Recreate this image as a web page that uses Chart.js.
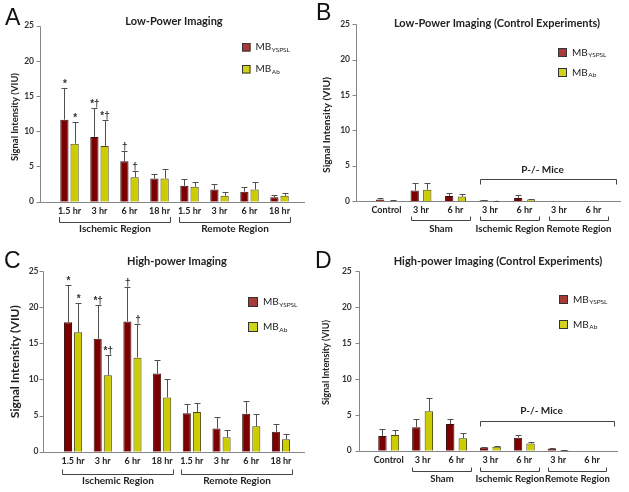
<!DOCTYPE html>
<html>
<head>
<meta charset="utf-8">
<script src="https://cdn.jsdelivr.net/npm/chart.js@4.4.1/dist/chart.umd.min.js"></script>
<style>
  body { margin: 0; background: #fff; }
  canvas { position: absolute; }
</style>
</head>
<body>
<canvas id="chartA" width="314" height="246" style="left:0;top:0"></canvas>
<canvas id="chartB" width="315" height="246" style="left:314px;top:0"></canvas>
<canvas id="chartC" width="314" height="246" style="left:0;top:246px"></canvas>
<canvas id="chartD" width="315" height="246" style="left:314px;top:246px"></canvas>
<script>
const FONT = 'Lato, "Open Sans", sans-serif';
const MARK_FONT = '"Liberation Sans", Arial, sans-serif';

// categories and ticks
const timeLabels = ['1.5 hr', '3 hr', '6 hr', '18 hr', '1.5 hr', '3 hr', '6 hr', '18 hr'];
const controlLabels = ['Control', '3 hr', '6 hr', '3 hr', '6 hr', '3 hr', '6 hr'];
const yTicks = [0, 5, 10, 15, 20, 25];

const seriesNames = ['MB', 'MB'];
const seriesSubs = ['YSPSL', 'Ab'];

// A - low power
const lowYspsl = [11.65, 9.2, 5.73, 3.3, 2.26, 1.73, 1.42, 0.62];
const lowYspslSD = [4.45, 4.05, 1.52, 0.57, 0.94, 0.77, 0.62, 0.28];
const lowAb = [8.23, 7.9, 3.47, 3.3, 2.13, 0.84, 1.73, 0.84];
const lowAbSD = [3.07, 3.75, 0.89, 1.4, 0.67, 0.56, 1.07, 0.4];

// B - low power controls
const lowCtrlYspsl = [0.22, 1.47, 0.71, 0.1, 0.44, 0, 0];
const lowCtrlYspslSD = [0.18, 1.1, 0.44, 0.05, 0.45, 0, 0];
const lowCtrlAb = [0.05, 1.6, 0.62, 0.05, 0.22, 0, 0];
const lowCtrlAbSD = [0.03, 0.98, 0.4, 0.02, 0.13, 0, 0];

// C - high power
const highYspsl = [17.9, 15.6, 18.0, 10.8, 5.3, 3.2, 5.26, 2.74];
const highYspslSD = [5.07, 4.7, 4.7, 1.9, 1.3, 1.6, 1.74, 1.1];
const highAb = [16.5, 10.55, 13.0, 7.5, 5.5, 2.0, 3.5, 1.72];
const highAbSD = [4.1, 2.75, 4.6, 2.57, 1.2, 0.97, 1.7, 0.71];

// D - high power controls
const highCtrlYspsl = [2.05, 3.27, 3.7, 0.46, 1.82, 0.27, 0];
const highCtrlYspslSD = [0.95, 1.1, 0.76, 0.09, 0.32, 0.06, 0];
const highCtrlAb = [2.2, 5.5, 1.73, 0.55, 1.0, 0.1, 0];
const highCtrlAbSD = [0.7, 1.8, 0.77, 0.17, 0.28, 0.05, 0];

// significance marks
const timeMarksYspsl = ['*', '*†', '†', '', '', '', '', ''];
const timeMarksAb = ['*', '*†', '†', '', '', '', '', ''];

// groupings under the x axis
const timeGroupNames = ['Ischemic Region', 'Remote Region'];
const timeGroupFirst = [0, 4];
const timeGroupLast = [3, 7];
const ctrlGroupNames = ['Sham', 'Ischemic Region', 'Remote Region'];
const ctrlGroupFirst = [1, 3, 5];
const ctrlGroupLast = [2, 4, 6];
const miceLabel = 'P-/- Mice';
const miceFirst = 3;
const miceLast = 6;

const barColors = ['#7d0000', '#cccc00'];
const legendColors = ['#a83a3a', '#d2d21e'];

const decor = {
  id: 'decor',
  beforeDatasetsDraw(chart, args, o) {
    const ctx = chart.ctx, y = chart.scales.y;
    const y0 = Math.round(y.getPixelForValue(0)) + 0.5;
    const yTop = Math.round(y.getPixelForValue(25)) + 0.5;
    const ax = Math.round(o.axisX) + 0.5;
    ctx.save();
    ctx.strokeStyle = '#858585';
    ctx.lineWidth = 1;
    ctx.beginPath();
    ctx.moveTo(ax, yTop);
    ctx.lineTo(ax, y0);
    ctx.lineTo(o.axisRight, y0);
    yTicks.forEach(v => {
      const py = Math.round(y.getPixelForValue(v)) + 0.5;
      ctx.moveTo(ax - 4, py);
      ctx.lineTo(ax, py);
    });
    ctx.stroke();
    ctx.restore();
  },
  afterDatasetsDraw(chart, args, o) {
    const ctx = chart.ctx, x = chart.scales.x, y = chart.scales.y;
    ctx.save();

    // error bars + marks
    ctx.strokeStyle = '#505050';
    ctx.lineWidth = 1;
    ctx.fillStyle = '#333';
    ctx.font = `bold 10px ${MARK_FONT}`;
    ctx.textAlign = 'center';
    ctx.textBaseline = 'alphabetic';
    chart.data.datasets.forEach((ds, i) => {
      const meta = chart.getDatasetMeta(i);
      meta.data.forEach((bar, j) => {
        const sd = ds.sd[j];
        if (!sd) return;
        const yt = Math.round(y.getPixelForValue(ds.data[j] + sd)) + 0.5;
        const bx = Math.round(bar.x) + 0.5;
        ctx.beginPath();
        ctx.moveTo(bx, bar.y);
        ctx.lineTo(bx, yt);
        ctx.moveTo(bx - 3, yt);
        ctx.lineTo(bx + 3, yt);
        ctx.stroke();
        const m = ds.marks && ds.marks[j];
        if (m) ctx.fillText(m, bar.x + 0.5, yt - 2);
      });
    });

    // title
    ctx.fillStyle = '#222';
    ctx.font = `bold 11px ${FONT}`;
    ctx.textBaseline = 'middle';
    ctx.fillText(o.title, o.titleX, o.titleY);

    // panel letter
    ctx.textAlign = 'left';
    ctx.textBaseline = 'alphabetic';
    ctx.font = `23px "Liberation Sans", Arial, sans-serif`;
    ctx.fillStyle = '#111';
    ctx.fillText(o.letter, o.letterX, o.letterY);

    // y title, fitted to its length in the picture
    ctx.save();
    ctx.translate(o.yTitleX, o.yTitleY);
    ctx.rotate(-Math.PI / 2);
    ctx.font = `bold 10px ${FONT}`;
    const fs = 10 * o.yTitleLen / ctx.measureText('Signal Intensity (VIU)').width;
    ctx.font = `bold ${fs.toFixed(2)}px ${FONT}`;
    ctx.textAlign = 'center';
    ctx.textBaseline = 'middle';
    ctx.fillStyle = '#222';
    ctx.fillText('Signal Intensity (VIU)', 0, 0);
    ctx.restore();

    // legend
    chart.data.datasets.forEach((ds, i) => {
      const sy = o.legendY[i], s = o.legendSize;
      ctx.fillStyle = legendColors[i];
      ctx.fillRect(o.legendX, sy, s, s);
      ctx.strokeStyle = '#333';
      ctx.strokeRect(o.legendX + 0.5, sy + 0.5, s - 1, s - 1);
      ctx.fillStyle = '#222';
      ctx.textAlign = 'left';
      ctx.textBaseline = 'middle';
      ctx.font = `10px ${FONT}`;
      ctx.fillText(ds.name, o.legendX + s + 5, sy + s / 2);
      const w = ctx.measureText(ds.name).width;
      ctx.font = `6.5px ${FONT}`;
      ctx.fillText(ds.sub, o.legendX + s + 5 + w + 0.5, sy + s / 2 + 2.5);
    });

    // brackets under the axis
    ctx.strokeStyle = '#444';
    ctx.fillStyle = '#222';
    ctx.font = `bold ${o.groupFont}px ${FONT}`;
    ctx.textAlign = 'center';
    ctx.textBaseline = 'middle';
    o.groupNames.forEach((name, k) => {
      const xs = Math.round(x.getPixelForValue(o.groupFirst[k] - 0.5 + o.inset[0])) + 0.5;
      const xe = Math.round(x.getPixelForValue(o.groupLast[k] + 0.5 - o.inset[1])) + 0.5;
      ctx.beginPath();
      ctx.moveTo(xs, o.brTop);
      ctx.lineTo(xs, o.brY);
      ctx.lineTo(xe, o.brY);
      ctx.lineTo(xe, o.brTop);
      ctx.stroke();
      ctx.fillText(name, (xs + xe) / 2, o.groupLabelY);
    });

    // P-/- mice bracket
    if (o.mice) {
      const xs = Math.round(x.getPixelForValue(miceFirst - 0.3)) + 0.5;
      const xe = Math.round(x.getPixelForValue(miceLast + 0.65)) + 0.5;
      ctx.beginPath();
      ctx.moveTo(xs, o.mice.y + 5);
      ctx.lineTo(xs, o.mice.y);
      ctx.lineTo(xe, o.mice.y);
      ctx.lineTo(xe, o.mice.y + 5);
      ctx.stroke();
      ctx.font = `bold 10px ${FONT}`;
      ctx.fillText(miceLabel, (xs + xe) / 2 - 6, o.mice.labelY);
    }
    ctx.restore();
  }
};

function makePanel(id, labels, yspsl, yspslSD, ab, abSD, marksY, marksA, lay) {
  const datasets = [
    { data: yspsl, sd: yspslSD, marks: marksY, name: seriesNames[0], sub: seriesSubs[0],
      backgroundColor: barColors[0], borderColor: '#3a1010', borderWidth: 1,
      categoryPercentage: lay.cp, barPercentage: lay.bp },
    { data: ab, sd: abSD, marks: marksA, name: seriesNames[1], sub: seriesSubs[1],
      backgroundColor: barColors[1], borderColor: '#4a4a10', borderWidth: 1,
      categoryPercentage: lay.cp, barPercentage: lay.bp }
  ];
  return new Chart(document.getElementById(id), {
    type: 'bar',
    data: { labels: labels, datasets: datasets },
    plugins: [decor],
    options: {
      responsive: false,
      animation: false,
      layout: { padding: { left: 0, top: lay.top, right: lay.right, bottom: 0 } },
      plugins: { legend: { display: false }, tooltip: { enabled: false }, decor: lay },
      scales: {
        x: {
          offset: true,
          grid: { display: false, drawTicks: false },
          border: { display: false },
          ticks: { font: { family: FONT, size: 9, weight: 'bold' }, color: '#222',
                   padding: lay.xTickPad, maxRotation: 0, autoSkip: false },
          afterFit(s) { s.height = lay.xAxisH; }
        },
        y: {
          min: 0, max: 25,
          grid: { display: false, drawTicks: false },
          border: { display: false },
          afterBuildTicks(s) { s.ticks = yTicks.map(v => ({ value: v })); },
          ticks: { font: { family: FONT, size: 8.5, weight: 'bold' }, color: '#333', padding: lay.yTickPad },
          afterFit(s) { s.width = lay.yAxisW; }
        }
      }
    }
  });
}

makePanel('chartA', timeLabels, lowYspsl, lowYspslSD, lowAb, lowAbSD, timeMarksYspsl, timeMarksAb, {
  top: 13.5, right: 19.5, yAxisW: 54.5, xAxisH: 44.3, cp: 0.68, bp: 0.81,
  axisX: 40, axisRight: 305, yTickPad: 20.5, xTickPad: 4,
  title: 'Low-Power Imaging', titleX: 174, titleY: 21,
  letter: 'A', letterX: 5, letterY: 25,
  yTitleX: 15, yTitleY: 117, yTitleLen: 88,
  legendX: 242, legendY: [43, 65], legendSize: 8.5,
  groupNames: timeGroupNames, groupFirst: timeGroupFirst, groupLast: timeGroupLast, groupFont: 10,
  inset: [0.14, 0.14], brTop: 217, brY: 222.5, groupLabelY: 229
});

makePanel('chartB', controlLabels, lowCtrlYspsl, lowCtrlYspslSD, lowCtrlAb, lowCtrlAbSD, null, null, {
  top: 13.3, right: 18.25, yAxisW: 55.25, xAxisH: 45, cp: 0.73, bp: 0.66,
  axisX: 41.7, axisRight: 307, yTickPad: 19.25, xTickPad: 4,
  title: 'Low-Power Imaging (Control Experiments)', titleX: 183, titleY: 23,
  letter: 'B', letterX: 2, letterY: 20,
  yTitleX: 12.7, yTitleY: 125, yTitleLen: 96,
  legendX: 244, legendY: [48, 68], legendSize: 9,
  groupNames: ctrlGroupNames, groupFirst: ctrlGroupFirst, groupLast: ctrlGroupLast, groupFont: 9.6,
  inset: [0.2, 0.08], brTop: 216.5, brY: 220.5, groupLabelY: 229.3,
  mice: { y: 179.5, labelY: 169.3 }
});

makePanel('chartC', timeLabels, highYspsl, highYspslSD, highAb, highAbSD, timeMarksYspsl, timeMarksAb, {
  top: 17.3, right: 18.2, yAxisW: 58.2, xAxisH: 40.3, cp: 0.68, bp: 0.8,
  axisX: 43, axisRight: 305, yTickPad: 19.7, xTickPad: 4,
  title: 'High-power Imaging', titleX: 177, titleY: 15,
  letter: 'C', letterX: 4, letterY: 22.3,
  yTitleX: 15, yTitleY: 115.7, yTitleLen: 113,
  legendX: 248, legendY: [51, 76], legendSize: 10,
  groupNames: timeGroupNames, groupFirst: timeGroupFirst, groupLast: timeGroupLast, groupFont: 10,
  inset: [0.14, 0.14], brTop: 223.5, brY: 228.5, groupLabelY: 235
});

makePanel('chartD', controlLabels, highCtrlYspsl, highCtrlYspslSD, highCtrlAb, highCtrlAbSD, null, null, {
  top: 22, right: 20, yAxisW: 57.75, xAxisH: 41.3, cp: 0.74, bp: 0.67,
  axisX: 45, axisRight: 304, yTickPad: 20, xTickPad: 4,
  title: 'High-power Imaging (Control Experiments)', titleX: 184, titleY: 15,
  letter: 'D', letterX: 1, letterY: 22.3,
  yTitleX: 12, yTitleY: 116.5, yTitleLen: 85,
  legendX: 245, legendY: [49, 74], legendSize: 9,
  groupNames: ctrlGroupNames, groupFirst: ctrlGroupFirst, groupLast: ctrlGroupLast, groupFont: 9.6,
  inset: [0.2, 0.08], brTop: 221.5, brY: 225.5, groupLabelY: 233.3,
  mice: { y: 175.5, labelY: 164.7 }
});
</script>
</body>
</html>
